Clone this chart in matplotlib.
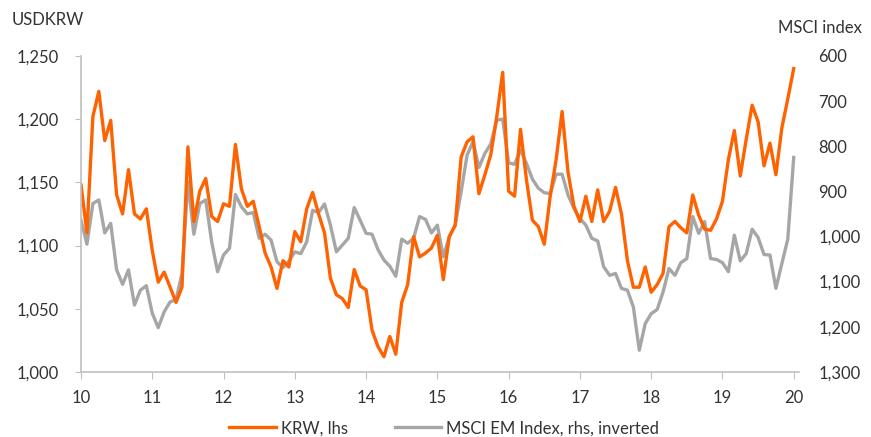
import matplotlib.pyplot as plt
import numpy as np
from matplotlib.ticker import FuncFormatter

plt.rcParams['font.family'] = ['Lato', 'DejaVu Sans']

# Monthly data, Jan 2010 - Jan 2020
krw = [1148, 1110, 1202, 1222, 1183, 1199, 1140, 1125, 1160, 1125, 1121, 1129,
       1096, 1071, 1079, 1067, 1055, 1067, 1178, 1119, 1143, 1153, 1123, 1119,
       1133, 1131, 1180, 1145, 1131, 1135, 1115, 1094, 1083, 1066, 1088, 1083,
       1111, 1103, 1129, 1142, 1125, 1110, 1074, 1061, 1058, 1051, 1081, 1068,
       1065, 1033, 1020, 1012, 1028, 1014, 1055, 1069, 1107, 1091, 1094, 1098,
       1108, 1073, 1107, 1116, 1170, 1182, 1186, 1141, 1156, 1172, 1202, 1237,
       1143, 1139, 1192, 1152, 1120, 1115, 1101, 1139, 1168, 1206, 1158, 1131,
       1119, 1139, 1119, 1144, 1119, 1127, 1146, 1125, 1088, 1067, 1067, 1083,
       1063, 1069, 1078, 1115, 1119, 1114, 1110, 1140, 1124, 1113, 1112, 1121,
       1135, 1168, 1191, 1155, 1184, 1211, 1198, 1163, 1181, 1156, 1193, 1216,
       1240]
msci = [964, 1017, 927, 919, 992, 971, 1074, 1106, 1074, 1152, 1119, 1109,
        1170, 1202, 1167, 1145, 1140, 1082, 879, 995, 927, 919, 1012, 1078,
        1041, 1026, 907, 934, 950, 947, 1004, 995, 1008, 1056, 1069, 1055,
        1034, 1038, 1012, 942, 947, 928, 975, 1034, 1019, 1004, 936, 964,
        993, 995, 1029, 1052, 1066, 1088, 1006, 1015, 1004, 956, 962, 992,
        975, 1045, 1001, 975, 901, 820, 790, 847, 816, 795, 742, 740,
        837, 840, 808, 838, 873, 893, 903, 905, 862, 862, 908, 938,
        960, 975, 1004, 1010, 1067, 1086, 1082, 1115, 1119, 1156, 1252, 1193,
        1171, 1162, 1123, 1071, 1086, 1058, 1049, 956, 993, 967, 1049, 1051,
        1058, 1078, 997, 1054, 1038, 984, 1002, 1040, 1041, 1115, 1060, 1006,
        825]
years = 10 + np.arange(len(krw)) / 12
year_ticks = list(range(10, 21))

orange = '#ff6200'
grey = '#a6a6a6'
axis_col = '#c0c0c0'
text_col = '#333333'

fig = plt.figure(figsize=(8.71, 4.37), dpi=100)
ax = fig.add_axes([0.093, 0.149, 0.824, 0.723])
ax2 = ax.twinx()

l2, = ax2.plot(years, msci, color=grey, lw=2.4, label='MSCI EM Index, rhs, inverted')
l1, = ax.plot(years, krw, color=orange, lw=2.4, label='KRW, lhs')
ax.set_zorder(ax2.get_zorder() + 1)
ax.patch.set_visible(False)

ax.set_xlim(10, 20.07)
ax.set_ylim(1000, 1250)
ax2.set_ylim(1300, 600)
ax.set_xticks(year_ticks)
ax.set_yticks(range(1000, 1251, 50))
ax2.set_yticks(range(600, 1301, 100))
comma = FuncFormatter(lambda v, p: f'{int(v):,}')
ax.yaxis.set_major_formatter(comma)
ax2.yaxis.set_major_formatter(comma)

for s in ['top', 'right']:
    ax.spines[s].set_visible(False)
for s in ax2.spines.values():
    s.set_visible(False)
for s in ['left', 'bottom']:
    ax.spines[s].set_color(axis_col)
    ax.spines[s].set_linewidth(1.2)

ax.tick_params(axis='y', length=4, color=axis_col, pad=12, labelsize=12, labelcolor=text_col)
ax.tick_params(axis='x', length=5, color=axis_col, pad=8, labelsize=12, labelcolor=text_col)
ax2.tick_params(axis='y', length=0, pad=14, labelsize=12, labelcolor=text_col)

fig.text(12 / 871, 1 - 20 / 437, 'USDKRW', ha='left', va='center', fontsize=12, color=text_col)
fig.text(862 / 871, 1 - 28 / 437, 'MSCI index', ha='right', va='center', fontsize=12, color=text_col)

fig.legend([l1, l2], [l1.get_label(), l2.get_label()], loc='center',
           bbox_to_anchor=(0.51, 0.02), ncol=2, frameon=False, fontsize=12,
           handlelength=2.8, columnspacing=2.8, handletextpad=0.3,
           labelcolor=text_col)

fig.savefig('out.png', dpi=100)
